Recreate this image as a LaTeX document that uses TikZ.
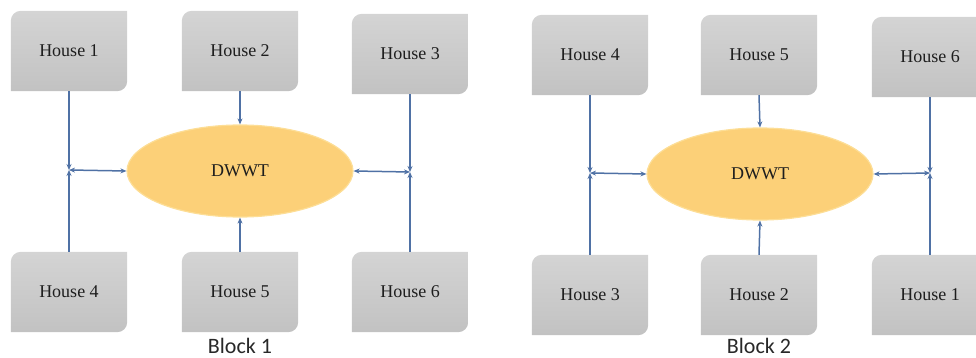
\documentclass[tikz,border=0pt]{standalone}
\usepackage{fontspec}
\setmainfont{Liberation Serif}
\newfontfamily\blockfont{Carlito}
\usetikzlibrary{arrows.meta,backgrounds,shapes.geometric}
\definecolor{linecol}{RGB}{79,113,165}
\definecolor{boxtop}{RGB}{212,212,212}
\definecolor{boxbot}{RGB}{194,194,194}
\definecolor{ellfill}{RGB}{252,208,120}
\definecolor{elledge}{RGB}{253,222,150}
\definecolor{txt}{RGB}{30,30,30}
\newcommand{\drawhouse}[1]{%
  \shade[top color=boxtop,bottom color=boxbot]
    (#1.south west) -- ([yshift=-10pt]#1.north west)
    arc[start angle=180,end angle=90,radius=10pt]
    -- (#1.north east) -- ([yshift=10pt]#1.south east)
    arc[start angle=0,end angle=-90,radius=10pt] -- cycle;}
\tikzset{
  house/.style={rectangle,minimum width=116pt,minimum height=80pt,inner sep=0pt,
    font=\fontsize{18}{21}\selectfont,text=txt},
  tank/.style={ellipse,minimum width=226pt,minimum height=92pt,inner sep=0pt,
    fill=ellfill,draw=elledge,line width=1.2pt,font=\fontsize{18}{21}\selectfont,text=txt},
  conn/.style={draw=linecol,line width=1.5pt,-{Stealth[length=6pt,width=5pt]}},
  biconn/.style={draw=linecol,line width=1.5pt,{Stealth[length=6pt,width=5pt]}-{Stealth[length=6pt,width=5pt]}},
  blocklabel/.style={font=\blockfont\fontsize{22}{26}\selectfont,text={rgb,255:red,40;green,40;blue,40}}
}
\begin{document}
\begin{tikzpicture}[x=1pt,y=-1pt]
\useasboundingbox (0,0) rectangle (976,358);
% Block 1
\node[house] (a1) at (69,51) {House 1};
\node[house] (a2) at (240,51) {House 2};
\node[house] (a3) at (410,54) {House 3};
\node[house] (a4) at (69,292) {House 4};
\node[house] (a5) at (240,292) {House 5};
\node[house] (a6) at (410,292) {House 6};
\node[tank] (t1) at (240,171) {DWWT};
\coordinate (j1) at (69,170);
\coordinate (j2) at (410,172);
\node[blocklabel] (b1) at (240,346) {Block 1};
% Block 2
\node[house] (c4) at (590,55) {House 4};
\node[house] (c5) at (759,55) {House 5};
\node[house] (c6) at (930,57) {House 6};
\node[house] (c3) at (590,295) {House 3};
\node[house] (c2) at (759,295) {House 2};
\node[house] (c1) at (930,295) {House 1};
\node[tank] (t2) at (760,174) {DWWT};
\coordinate (k1) at (590,173);
\coordinate (k2) at (930,173);
\node[blocklabel] (b2) at (759,346) {Block 2};
\begin{scope}[on background layer]
\foreach \n in {a1,a2,a3,a4,a5,a6,c1,c2,c3,c4,c5,c6} {\drawhouse{\n}}
\end{scope}
% connectors block 1
\draw[conn] (a1.south) -- (j1);
\draw[conn] (a4.north) -- (j1);
\draw[biconn] (j1) -- (t1.west);
\draw[conn] (a3.south) -- (j2);
\draw[conn] (a6.north) -- (j2);
\draw[biconn] (j2) -- (t1.east);
\draw[conn] (a2.south) -- (t1.north);
\draw[conn] (a5.north) -- (t1.south);
% connectors block 2
\draw[conn] (c4.south) -- (k1);
\draw[conn] (c3.north) -- (k1);
\draw[biconn] (k1) -- (t2.west);
\draw[conn] (c6.south) -- (k2);
\draw[conn] (c1.north) -- (k2);
\draw[biconn] (k2) -- (t2.east);
\draw[conn] (c5.south) -- (t2.north);
\draw[conn] (c2.north) -- (t2.south);
\end{tikzpicture}
\end{document}
